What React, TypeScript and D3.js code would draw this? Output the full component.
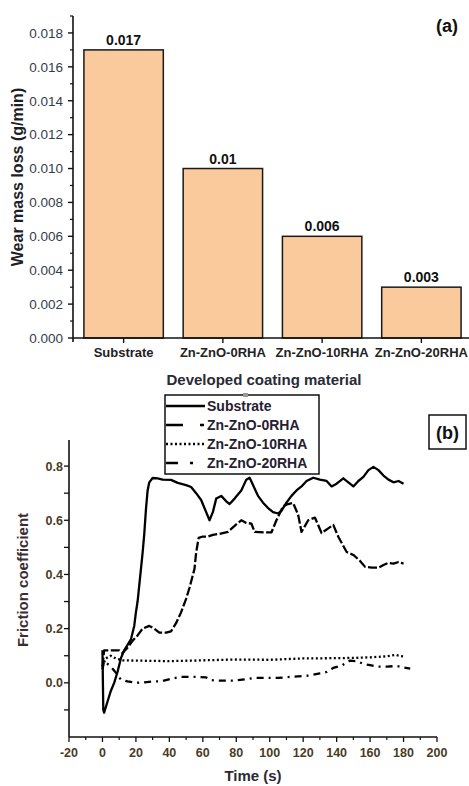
import { useEffect, useRef } from 'react'
import * as d3 from 'd3'

// panel (a) data
const coatings = ['Substrate', 'Zn-ZnO-0RHA', 'Zn-ZnO-10RHA', 'Zn-ZnO-20RHA']
const wearLoss = [0.017, 0.01, 0.006, 0.003]
const wearLabels = ['0.017', '0.01', '0.006', '0.003']
const wearTicks = [0, 0.002, 0.004, 0.006, 0.008, 0.01, 0.012, 0.014, 0.016, 0.018]

// panel (b) data: [time s, friction coefficient]
const substrate: [number, number][] = [
    [0, 0.12], [0.5, -0.1], [1, -0.11], [3, -0.07], [5, -0.03], [7, 0.0], [9, 0.04], [11, 0.09],
    [13, 0.12], [15, 0.14], [17, 0.16], [19, 0.21], [20, 0.26], [21, 0.3], [22, 0.36], [23, 0.42],
    [24, 0.48], [25, 0.55], [26, 0.64], [27, 0.71], [28, 0.74], [30, 0.756], [33, 0.755], [36, 0.75],
    [41, 0.749], [45, 0.738], [50, 0.73], [53, 0.723], [56, 0.7], [59, 0.675], [62, 0.63], [64, 0.6],
    [66, 0.63], [68, 0.68], [71, 0.69], [74, 0.67], [76, 0.66], [79, 0.68], [83, 0.71], [86, 0.75],
    [88, 0.757], [90, 0.73], [93, 0.69], [96, 0.665], [99, 0.645], [102, 0.63], [105, 0.625], [107, 0.635],
    [110, 0.665], [113, 0.69], [116, 0.71], [119, 0.725], [122, 0.745], [126, 0.757], [130, 0.75],
    [134, 0.745], [137, 0.725], [140, 0.735], [144, 0.755], [147, 0.74], [150, 0.725], [153, 0.745],
    [156, 0.76], [159, 0.785], [162, 0.797], [165, 0.785], [168, 0.765], [171, 0.75], [174, 0.74],
    [177, 0.745], [180, 0.735],
]
const rha0: [number, number][] = [
    [0, 0.06], [1, 0.12], [10, 0.12], [12, 0.11], [15, 0.13], [18, 0.155], [21, 0.175], [24, 0.2],
    [28, 0.21], [31, 0.2], [34, 0.185], [38, 0.185], [41, 0.19], [44, 0.22], [47, 0.26], [50, 0.31],
    [52, 0.35], [55, 0.42], [56, 0.48], [57.5, 0.535], [60, 0.54], [63, 0.54], [66, 0.546], [70, 0.55],
    [75, 0.557], [80, 0.585], [83, 0.6], [86, 0.59], [89, 0.588], [91, 0.557], [97, 0.555], [101, 0.555],
    [104, 0.6], [108, 0.652], [111, 0.66], [114, 0.664], [117, 0.62], [119, 0.557], [123, 0.6],
    [127, 0.61], [131, 0.553], [135, 0.57], [138, 0.583], [141, 0.539], [146, 0.483], [150, 0.472],
    [154, 0.45], [157, 0.428], [161, 0.425], [165, 0.425], [168, 0.435], [171, 0.443], [174, 0.44],
    [177, 0.446], [180, 0.44],
]
const rha10: [number, number][] = [
    [0, 0.06], [2, 0.09], [5, 0.1], [8, 0.09], [12, 0.083], [20, 0.082], [40, 0.08], [60, 0.083],
    [80, 0.086], [100, 0.085], [120, 0.09], [140, 0.091], [150, 0.092], [160, 0.094], [170, 0.098],
    [175, 0.103], [180, 0.097],
]
const rha20: [number, number][] = [
    [0, 0.05], [1, 0.08], [5, 0.06], [9, 0.03], [11, 0.012], [15, 0.005], [20, 0.0], [25, 0.002],
    [30, 0.005], [35, 0.005], [41, 0.015], [47, 0.022], [55, 0.022], [62, 0.02], [65, 0.01], [70, 0.008],
    [79, 0.008], [91, 0.018], [105, 0.018], [112, 0.022], [124, 0.027], [130, 0.035], [134, 0.04],
    [138, 0.055], [143, 0.064], [148, 0.082], [152, 0.08], [156, 0.07], [160, 0.065], [164, 0.06],
    [170, 0.06], [176, 0.062], [180, 0.057], [184, 0.052],
]
const frictionTicks = [0, 0.2, 0.4, 0.6, 0.8]
const frictionMinor = [-0.1, 0.1, 0.3, 0.5, 0.7]
const timeTicks = [-20, 0, 20, 40, 60, 80, 100, 120, 140, 160, 180, 200]

const series = [
    { name: 'Substrate', data: substrate, dash: null, legendDash: null },
    { name: 'Zn-ZnO-0RHA', data: rha0, dash: '9,2.5', legendDash: '17,17,4,10' },
    { name: 'Zn-ZnO-10RHA', data: rha10, dash: '2,2.5', legendDash: '2,2.5' },
    { name: 'Zn-ZnO-20RHA', data: rha20, dash: '7,5,2,5', legendDash: '12,12,3,20' },
]

const FONT = '"Liberation Sans", Arial, sans-serif'

export default function App() {
    const svgRef = useRef<SVGSVGElement>(null)

    useEffect(() => {
        if (!svgRef.current) return
        const svg = d3.select(svgRef.current)
        svg.selectAll('*').remove()
        svg.attr('font-family', FONT)

        // ---------- panel (a) ----------
        const xa = d3.scaleBand<string>().domain(coatings).range([73, 472]).paddingInner(0.2).paddingOuter(0.11)
        const ya = d3.scaleLinear().domain([0, 0.019]).range([338, 16])
        const ga = svg.append('g')

        ga.selectAll('rect.bar')
            .data(coatings)
            .enter().append('rect')
            .attr('x', d => xa(d)!)
            .attr('y', (d, i) => ya(wearLoss[i]))
            .attr('width', xa.bandwidth())
            .attr('height', (d, i) => ya(0) - ya(wearLoss[i]))
            .attr('fill', '#FAC99C')
            .attr('stroke', '#1a1a1a')
            .attr('stroke-width', 1.5)

        ga.selectAll('text.val')
            .data(coatings)
            .enter().append('text')
            .attr('x', d => xa(d)! + xa.bandwidth() / 2)
            .attr('y', (d, i) => ya(wearLoss[i]) - 5)
            .attr('text-anchor', 'middle')
            .attr('font-size', 14)
            .attr('font-weight', 'bold')
            .attr('fill', '#111')
            .text((d, i) => wearLabels[i])

        // axes
        ga.append('line').attr('x1', 73).attr('x2', 73).attr('y1', 16).attr('y2', 342)
            .attr('stroke', '#111').attr('stroke-width', 1.6)
        ga.append('line').attr('x1', 73).attr('x2', 469).attr('y1', 338).attr('y2', 338)
            .attr('stroke', '#111').attr('stroke-width', 1.6)

        const minorA = d3.range(0.001, 0.0195, 0.002)
        ga.selectAll('line.minA').data(minorA).enter().append('line')
            .attr('x1', 70).attr('x2', 73).attr('y1', d => ya(d)).attr('y2', d => ya(d))
            .attr('stroke', '#111').attr('stroke-width', 1.2)
        ga.selectAll('line.majA').data(wearTicks).enter().append('line')
            .attr('x1', 68).attr('x2', 73).attr('y1', d => ya(d)).attr('y2', d => ya(d))
            .attr('stroke', '#111').attr('stroke-width', 1.4)
        ga.selectAll('text.tickA').data(wearTicks).enter().append('text')
            .attr('x', 63).attr('y', d => ya(d)).attr('dy', '0.36em')
            .attr('text-anchor', 'end')
            .attr('font-size', 13.5)
            .attr('fill', '#363c4c')
            .text(d => d3.format('.3f')(d))

        ga.selectAll('line.xtA').data(coatings).enter().append('line')
            .attr('x1', d => xa(d)! + xa.bandwidth() / 2).attr('x2', d => xa(d)! + xa.bandwidth() / 2)
            .attr('y1', 338).attr('y2', 343)
            .attr('stroke', '#111').attr('stroke-width', 1.4)
        ga.selectAll('text.xlA').data(coatings).enter().append('text')
            .attr('x', d => xa(d)! + xa.bandwidth() / 2).attr('y', 357)
            .attr('text-anchor', 'middle')
            .attr('font-size', 13)
            .attr('font-weight', 'bold')
            .attr('fill', '#222')
            .text(d => d)

        ga.append('text').attr('x', 264).attr('y', 385).attr('text-anchor', 'middle')
            .attr('font-size', 15).attr('font-weight', 'bold').attr('fill', '#2a2a35')
            .text('Developed coating material')
        ga.append('text').attr('transform', 'translate(23,177) rotate(-90)').attr('text-anchor', 'middle')
            .attr('font-size', 16).attr('font-weight', 'bold').attr('fill', '#1e1e28')
            .text('Wear mass loss (g/min)')
        ga.append('text').attr('x', 447).attr('y', 32).attr('text-anchor', 'middle')
            .attr('font-size', 18).attr('font-weight', 'bold').attr('fill', '#111')
            .text('(a)')

        // ---------- panel (b) ----------
        const xb = d3.scaleLinear().domain([-20, 200]).range([69, 437])
        const yb = d3.scaleLinear().domain([-0.2, 0.9]).range([737, 439])
        const gb = svg.append('g')

        gb.append('line').attr('x1', 69).attr('x2', 69).attr('y1', 440).attr('y2', 737)
            .attr('stroke', '#111').attr('stroke-width', 1.6)
        gb.append('line').attr('x1', 69).attr('x2', 437).attr('y1', 737).attr('y2', 737)
            .attr('stroke', '#111').attr('stroke-width', 1.6)

        gb.selectAll('line.ytB').data([...frictionTicks, ...frictionMinor]).enter().append('line')
            .attr('x1', 64).attr('x2', 69).attr('y1', d => yb(d)).attr('y2', d => yb(d))
            .attr('stroke', '#111').attr('stroke-width', 1.3)
        gb.selectAll('text.ylB').data(frictionTicks).enter().append('text')
            .attr('x', 63).attr('y', d => yb(d)).attr('dy', '0.36em')
            .attr('text-anchor', 'end')
            .attr('font-size', 12.5).attr('font-weight', 'bold')
            .attr('fill', '#4a3b24')
            .text(d => d3.format('.1f')(d))

        const minorB = d3.range(-10, 200, 20)
        gb.selectAll('line.xmB').data(minorB).enter().append('line')
            .attr('x1', d => xb(d)).attr('x2', d => xb(d)).attr('y1', 737).attr('y2', 740)
            .attr('stroke', '#111').attr('stroke-width', 1.2)
        gb.selectAll('line.xtB').data(timeTicks).enter().append('line')
            .attr('x1', d => xb(d)).attr('x2', d => xb(d)).attr('y1', 737).attr('y2', 742)
            .attr('stroke', '#111').attr('stroke-width', 1.3)
        gb.selectAll('text.xlB').data(timeTicks).enter().append('text')
            .attr('x', d => xb(d)).attr('y', 757)
            .attr('text-anchor', 'middle')
            .attr('font-size', 12.5).attr('font-weight', 'bold')
            .attr('fill', '#4a3b24')
            .text(d => d)

        gb.append('text').attr('x', 253).attr('y', 781).attr('text-anchor', 'middle')
            .attr('font-size', 15).attr('font-weight', 'bold').attr('fill', '#2a2a35')
            .text('Time (s)')
        gb.append('text').attr('transform', 'translate(28,580) rotate(-90)').attr('text-anchor', 'middle')
            .attr('font-size', 15).attr('font-weight', 'bold').attr('fill', '#3a2c30')
            .text('Friction coefficient')

        const line = d3.line<[number, number]>().x(d => xb(d[0])).y(d => yb(d[1]))
        gb.selectAll('path.series').data(series).enter().append('path')
            .attr('d', d => line(d.data))
            .attr('fill', 'none')
            .attr('stroke', '#000')
            .attr('stroke-width', 2.3)
            .attr('stroke-linejoin', 'round')
            .attr('stroke-dasharray', d => d.dash)

        // legend
        const lg = gb.append('g')
        lg.append('rect').attr('x', 165).attr('y', 395).attr('width', 154).attr('height', 79)
            .attr('fill', '#fff').attr('stroke', '#111').attr('stroke-width', 1.5)
        lg.append('rect').attr('x', 243).attr('y', 393).attr('width', 5).attr('height', 4).attr('fill', '#999')
        const rowY = d3.scaleLinear().domain([0, 3]).range([406, 463])
        const rows = lg.selectAll('g.row').data(series).enter().append('g')
            .attr('transform', (d, i) => `translate(0,${rowY(i)})`)
        rows.append('line').attr('x1', 166).attr('x2', 205).attr('y1', 0).attr('y2', 0)
            .attr('stroke', '#000').attr('stroke-width', 2.3)
            .attr('stroke-dasharray', d => d.legendDash)
        rows.append('text').attr('x', 207).attr('y', 0).attr('dy', '0.36em')
            .attr('font-size', 14).attr('font-weight', 'bold').attr('fill', '#262030')
            .text(d => d.name)

        // (b) label
        gb.append('rect').attr('x', 429).attr('y', 415).attr('width', 37).attr('height', 34)
            .attr('fill', '#fff').attr('stroke', '#111').attr('stroke-width', 1.5)
        gb.append('text').attr('x', 447.5).attr('y', 438.5).attr('text-anchor', 'middle')
            .attr('font-size', 18).attr('font-weight', 'bold').attr('fill', '#111')
            .text('(b)')
    }, [])

    return (
        <svg ref={svgRef} width={469} height={786}
            style={{ position: 'absolute', left: 0, top: 0, background: '#fff' }} />
    )
}
